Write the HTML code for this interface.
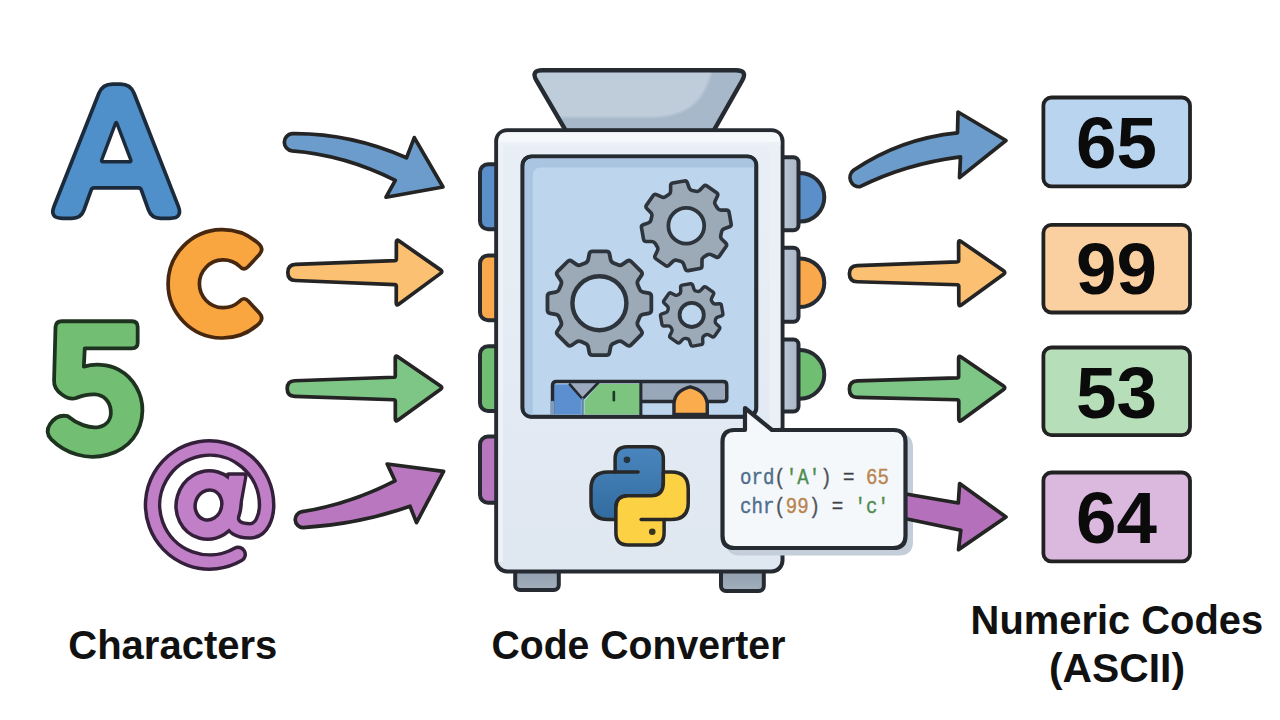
<!DOCTYPE html>
<html><head><meta charset="utf-8"><title>Code Converter</title>
<style>
html,body{margin:0;padding:0;background:#fff;}
body{width:1280px;height:720px;overflow:hidden;font-family:"Liberation Sans",sans-serif;}
svg text{font-family:"Liberation Sans",sans-serif;}
svg text.mono{font-family:"Liberation Mono",monospace;}
</style></head><body>
<svg width="1280" height="720" viewBox="0 0 1280 720" style="display:block">
<defs>
 <linearGradient id="pyb" x1="0" y1="0" x2="0" y2="1"><stop offset="0" stop-color="#4a86be"/><stop offset="1" stop-color="#316b9f"/></linearGradient>
 <linearGradient id="plate" x1="0" y1="0" x2="1" y2="0"><stop offset="0" stop-color="#c9d3df"/><stop offset="1" stop-color="#a9b6c7"/></linearGradient>
 <linearGradient id="foot" x1="0" y1="0" x2="0" y2="1"><stop offset="0" stop-color="#8796a7"/><stop offset="1" stop-color="#a3afbc"/></linearGradient>
 <linearGradient id="bodyg" x1="0" y1="0" x2="0" y2="1"><stop offset="0" stop-color="#e9eff6"/><stop offset="1" stop-color="#dfe7f1"/></linearGradient>
</defs>
<rect width="1280" height="720" fill="#ffffff"/>
<!-- LETTERS -->
<g stroke-linejoin="round" stroke-linecap="round">
 <path d="M98.81,93.50 Q102.50,84.20 112.50,84.20 L120.50,84.20 Q130.50,84.20 134.15,93.51 L178.26,206.19 Q183.00,218.30 170.00,218.30 L160.50,218.30 Q151.50,218.30 148.45,209.83 L141.18,189.68 Q140.50,187.80 138.50,187.80 L94.00,187.80 Q92.00,187.80 91.32,189.68 L84.05,209.83 Q81.00,218.30 72.00,218.30 L62.30,218.30 Q49.30,218.30 54.09,206.22 Z" fill="#4f8fca" stroke="#1c2b3b" stroke-width="3.7"/>
 <path d="M115.49,123.37 Q116.20,121.50 116.91,123.37 L130.79,159.93 Q131.50,161.80 129.50,161.80 L103.00,161.80 Q101.00,161.80 101.71,159.93 Z" fill="#ffffff" stroke="#1c2b3b" stroke-width="3.4"/>
 <path d="M259.33,244.23 A54.20,54.20 0 1 0 259.33,323.37 Q264.12,318.28 259.39,313.12 L248.52,301.27 Q243.79,296.11 239.36,301.50 A23.90,23.90 0 1 1 239.36,266.10 Q243.79,271.49 248.52,266.33 L259.39,254.48 Q264.12,249.32 259.33,244.23 Z" fill="#f9a640" stroke="#47280f" stroke-width="3.7"/>
 <g transform="translate(30,300) scale(0.23612)">
  <path d="M135,90 L432,90 Q456,90 456,114 L456,181 Q456,205 432,205 L232,205 L228,282 C270,270 330,270 375,295 C440,330 478,400 476,470 C474,560 420,630 330,655 C240,680 150,650 90,590 Q62,560 85,525 Q115,482 160,492 C200,525 250,545 290,538 C330,530 345,500 342,468 C338,425 310,402 275,400 C240,398 215,408 195,415 Q170,425 135,400 Q100,375 102,340 L108,114 Q110,90 135,90 Z" fill="#72bf73" stroke="#1d3320" stroke-width="16"/>
 </g>
 <g fill="none" stroke="#35203c">
  <path d="M238.10,554.36 A57,57 0 1 1 266.60,505.00 C266.6,516 262,530.8 250,530.8 C240,530.8 231,528 231,516" stroke-width="17.8"/>
  <path d="M228.6,475.2 L244.7,475.2 L237,518 L221,518 Z" stroke-width="6" fill="#35203c"/>
  <ellipse cx="208.5" cy="505" rx="22.75" ry="24.75" transform="rotate(16 208.5 505)" stroke-width="22.6"/>
 </g>
 <g fill="none" stroke="#c07fc6">
  <path d="M238.10,554.36 A57,57 0 1 1 266.60,505.00 C266.6,516 262,530.8 250,530.8 C240,530.8 231,528 231,516" stroke-width="10.8"/>
  <path d="M230.3,476.9 L243,476.9 L235.4,518 L222.6,518 Z" stroke-width="2.4" fill="#c07fc6"/>
  <ellipse cx="208.5" cy="505" rx="22.75" ry="24.75" transform="rotate(16 208.5 505)" stroke-width="15.6"/>
 </g>
</g>
<!-- ARROWS -->
<g stroke="#242424" stroke-width="3.7" stroke-linejoin="round" stroke-linecap="round">
 <path d="M292,133.7 Q350,133 406.5,157.8 L414.3,137.6 L443,187 L386,197.2 L395.3,180.3 Q345,155 292,150.8 A8.6,8.6 0 0 1 292,133.7 Z" fill="#6b9ccb"/>
 <path d="M287.80,272.40 Q287.81,264.60 295.61,264.31 L394.82,260.66 Q396.32,260.60 396.32,259.10 L396.36,242.10 Q396.36,239.10 398.82,240.82 L440.54,269.88 Q443.00,271.60 440.59,273.38 L398.65,304.32 Q396.24,306.10 396.24,303.10 L396.28,286.10 Q396.28,284.60 394.78,284.54 L295.58,280.52 Q287.79,280.20 287.80,272.40 Z" fill="#fbc072"/>
 <path d="M287.20,388.60 Q287.19,381.00 294.79,380.73 L393.79,377.25 Q395.29,377.20 395.29,375.70 L395.27,358.00 Q395.27,355.00 397.75,356.69 L440.52,385.91 Q443.00,387.60 440.57,389.36 L397.76,420.24 Q395.33,422.00 395.33,419.00 L395.31,401.30 Q395.31,399.80 393.81,399.75 L294.80,396.45 Q287.21,396.20 287.20,388.60 Z" fill="#7ec686"/>
 <path d="M302,511.7 Q350,504 395,480.8 L387.2,464 L443.6,471.4 L416.5,522.6 L410,506.2 Q360,524 303,527.6 A8,8 0 0 1 302,511.7 Z" fill="#b877be"/>
 <path d="M853.5,170.3 Q900,138.5 957.5,132.8 L958,112 L1006,140.5 L959.5,177.6 L960.5,156.8 Q905,164 860,186.7 A9.2,9.2 0 0 1 853.5,170.3 Z" fill="#6b9ccb"/>
 <path d="M849.40,273.70 Q849.37,265.90 857.17,265.61 L957.16,261.86 Q958.66,261.80 958.65,260.30 L958.59,242.80 Q958.58,239.80 961.05,241.50 L1003.53,270.70 Q1006.00,272.40 1003.58,274.17 L961.25,305.03 Q958.82,306.80 958.81,303.80 L958.75,286.30 Q958.74,284.80 957.24,284.75 L857.22,281.74 Q849.43,281.50 849.40,273.70 Z" fill="#fbc072"/>
 <path d="M849.40,389.20 Q849.37,381.20 857.37,380.95 L957.16,377.85 Q958.66,377.80 958.65,376.30 L958.59,358.30 Q958.58,355.30 961.05,356.99 L1003.52,386.01 Q1006.00,387.70 1003.58,389.47 L961.24,420.53 Q958.82,422.30 958.81,419.30 L958.75,401.30 Q958.74,399.80 957.24,399.76 L857.43,397.39 Q849.43,397.20 849.40,389.20 Z" fill="#7ec686"/>
</g>
<!-- MACHINE -->
<g stroke="#262b32" stroke-width="4" stroke-linejoin="round" stroke-linecap="round">
<rect x="480" y="164.2" width="30.00" height="65.00" rx="8" ry="8" fill="#5b8fc9" />
<rect x="480" y="255.5" width="30.00" height="64.70" rx="8" ry="8" fill="#f9a94b" />
<rect x="480" y="346.3" width="30.00" height="64.70" rx="8" ry="8" fill="#6fbe72" />
<rect x="480" y="436.5" width="30.00" height="66.20" rx="8" ry="8" fill="#b876bf" />
<circle cx="800" cy="197.3" r="24.3" fill="#5b8fc9"/>
<circle cx="800" cy="282.7" r="24.3" fill="#f9a94b"/>
<circle cx="800" cy="374.4" r="24.3" fill="#6fbe72"/>
<rect x="770" y="157.3" width="28.50" height="72.90" rx="5" ry="5" fill="url(#plate)" />
<rect x="770" y="247.8" width="28.50" height="74.00" rx="5" ry="5" fill="url(#plate)" />
<rect x="770" y="339.5" width="28.50" height="72.00" rx="5" ry="5" fill="url(#plate)" />
<clipPath id="hopclip"><path d="M536.56,80.66 Q530.50,70.30 542.50,70.30 L736.00,70.30 Q748.00,70.30 742.07,80.73 L713.99,130.13 Q713.50,131.00 712.50,131.00 L567.00,131.00 Q566.00,131.00 565.50,130.14 Z"/></clipPath>
<path d="M536.56,80.66 Q530.50,70.30 542.50,70.30 L736.00,70.30 Q748.00,70.30 742.07,80.73 L713.99,130.13 Q713.50,131.00 712.50,131.00 L567.00,131.00 Q566.00,131.00 565.50,130.14 Z" fill="#bfcdda" stroke="none"/>
<g clip-path="url(#hopclip)" stroke="none"><path d="M713,66 L760,66 L760,135 L540,135 L540,117.6 L650,117.6 C690,117 706,100 713,66 Z" fill="#a6b8ca"/><path d="M540,117.6 L650,117.6 C690,117 706,100 713,66" fill="none" stroke="#b2c2d2" stroke-width="2"/></g>
<path d="M536.56,80.66 Q530.50,70.30 542.50,70.30 L736.00,70.30 Q748.00,70.30 742.07,80.73 L713.99,130.13 Q713.50,131.00 712.50,131.00 L567.00,131.00 Q566.00,131.00 565.50,130.14 Z" fill="none" stroke-width="4.4"/>
<rect x="515.2" y="560" width="43.60" height="30.00" rx="5" ry="5" fill="url(#foot)" />
<rect x="721" y="560" width="42.80" height="31.00" rx="5" ry="5" fill="url(#foot)" />
<rect x="496.2" y="130.2" width="286.30" height="441.30" rx="11" ry="11" fill="url(#bodyg)" />
<rect x="522.5" y="156.4" width="233.80" height="260.40" rx="9" ry="9" fill="#bdd5ed" />
</g>
<path d="M507,132.3 L772,132.3 Q780.3,132.3 780.3,141 L780.3,142 L498.4,142 L498.4,141 Q498.4,132.3 507,132.3 Z" fill="#f6f9fc"/>
<rect x="498.4" y="142" width="282" height="3" fill="#eef2f8" opacity="0.7"/>
<rect x="769.5" y="142" width="10.8" height="285" fill="#ebf0f7"/>
<rect x="498.4" y="142" width="4.6" height="420" fill="#eef2f8"/>
<path d="M524.6,167 Q524.6,158.5 533,158.5 L754.2,158.5 L754.2,167.5 L541,167.5 Q532.8,167.5 532.8,176 L532.8,414.7 L524.6,414.7 Z" fill="#a9c5e2"/>
<g stroke="#2e343c" stroke-linejoin="round" fill="#9ca9b7">
<path d="M668.78,194.57 Q670.63,193.39 670.63,191.19 L670.62,185.61 Q670.62,183.41 672.79,183.03 L684.37,180.98 Q686.54,180.60 687.29,182.67 L689.19,187.92 Q689.94,189.98 692.09,190.46 L695.99,191.33 Q698.14,191.80 699.69,190.24 L703.63,186.29 Q705.19,184.74 706.99,186.00 L716.63,192.74 Q718.43,194.01 717.50,196.00 L715.13,201.05 Q714.20,203.05 715.38,204.90 L717.53,208.28 Q718.71,210.13 720.91,210.13 L726.49,210.12 Q728.69,210.12 729.07,212.29 L731.12,223.87 Q731.50,226.04 729.43,226.79 L724.18,228.69 Q722.12,229.44 721.64,231.59 L720.77,235.49 Q720.30,237.64 721.86,239.19 L725.81,243.13 Q727.36,244.69 726.10,246.49 L719.36,256.13 Q718.09,257.93 716.10,257.00 L711.05,254.63 Q709.05,253.70 707.20,254.88 L703.82,257.03 Q701.97,258.21 701.97,260.41 L701.98,265.99 Q701.98,268.19 699.81,268.57 L688.23,270.62 Q686.06,271.00 685.31,268.93 L683.41,263.68 Q682.66,261.62 680.51,261.14 L676.61,260.27 Q674.46,259.80 672.91,261.36 L668.97,265.31 Q667.41,266.86 665.61,265.60 L655.97,258.86 Q654.17,257.59 655.10,255.60 L657.47,250.55 Q658.40,248.55 657.22,246.70 L655.07,243.32 Q653.89,241.47 651.69,241.47 L646.11,241.48 Q643.91,241.48 643.53,239.31 L641.48,227.73 Q641.10,225.56 643.17,224.81 L648.42,222.91 Q650.48,222.16 650.96,220.01 L651.83,216.11 Q652.30,213.96 650.74,212.41 L646.79,208.47 Q645.24,206.91 646.50,205.11 L653.24,195.47 Q654.51,193.67 656.50,194.60 L661.55,196.97 Q663.55,197.90 665.40,196.72 Z" stroke-width="3.6"/><circle cx="686.3" cy="225.8" r="17.9" fill="#bdd5ed" stroke-width="3.8"/>
<path d="M585.34,263.01 Q587.75,262.02 588.23,259.46 L589.29,253.84 Q589.78,251.28 592.38,251.28 L606.42,251.28 Q609.02,251.28 609.51,253.84 L610.57,259.46 Q611.05,262.02 613.46,263.01 L617.88,264.84 Q620.28,265.84 622.43,264.37 L627.16,261.15 Q629.31,259.69 631.14,261.52 L641.08,271.46 Q642.91,273.29 641.45,275.44 L638.23,280.17 Q636.76,282.32 637.76,284.72 L639.59,289.14 Q640.58,291.55 643.14,292.03 L648.76,293.09 Q651.32,293.58 651.32,296.18 L651.32,310.22 Q651.32,312.82 648.76,313.31 L643.14,314.37 Q640.58,314.85 639.59,317.26 L637.76,321.68 Q636.76,324.08 638.23,326.23 L641.45,330.96 Q642.91,333.11 641.08,334.94 L631.14,344.88 Q629.31,346.71 627.16,345.25 L622.43,342.03 Q620.28,340.56 617.88,341.56 L613.46,343.39 Q611.05,344.38 610.57,346.94 L609.51,352.56 Q609.02,355.12 606.42,355.12 L592.38,355.12 Q589.78,355.12 589.29,352.56 L588.23,346.94 Q587.75,344.38 585.34,343.39 L580.92,341.56 Q578.52,340.56 576.37,342.03 L571.64,345.25 Q569.49,346.71 567.66,344.88 L557.72,334.94 Q555.89,333.11 557.35,330.96 L560.57,326.23 Q562.04,324.08 561.04,321.68 L559.21,317.26 Q558.22,314.85 555.66,314.37 L550.04,313.31 Q547.48,312.82 547.48,310.22 L547.48,296.18 Q547.48,293.58 550.04,293.09 L555.66,292.03 Q558.22,291.55 559.21,289.14 L561.04,284.72 Q562.04,282.32 560.57,280.17 L557.35,275.44 Q555.89,273.29 557.72,271.46 L567.66,261.52 Q569.49,259.69 571.64,261.15 L576.37,264.37 Q578.52,265.84 580.92,264.84 Z" stroke-width="3.8"/><circle cx="599.4" cy="303.2" r="27" fill="#bdd5ed" stroke-width="4.4"/>
<path d="M679.29,294.03 Q680.81,293.06 680.74,291.26 L680.58,287.25 Q680.51,285.45 682.29,285.14 L690.37,283.72 Q692.14,283.40 692.69,285.12 L693.91,288.94 Q694.46,290.66 696.22,291.05 L697.68,291.37 Q699.44,291.76 700.66,290.44 L703.39,287.49 Q704.61,286.17 706.09,287.20 L712.81,291.91 Q714.28,292.94 713.46,294.54 L711.62,298.11 Q710.80,299.71 711.76,301.23 L712.57,302.49 Q713.54,304.01 715.34,303.94 L719.35,303.78 Q721.15,303.71 721.46,305.49 L722.88,313.57 Q723.20,315.34 721.48,315.89 L717.66,317.11 Q715.94,317.66 715.55,319.42 L715.23,320.88 Q714.84,322.64 716.16,323.86 L719.11,326.59 Q720.43,327.81 719.40,329.29 L714.69,336.01 Q713.66,337.48 712.06,336.66 L708.49,334.82 Q706.89,334.00 705.37,334.96 L704.11,335.77 Q702.59,336.74 702.66,338.54 L702.82,342.55 Q702.89,344.35 701.11,344.66 L693.03,346.08 Q691.26,346.40 690.71,344.68 L689.49,340.86 Q688.94,339.14 687.18,338.75 L685.72,338.43 Q683.96,338.04 682.74,339.36 L680.01,342.31 Q678.79,343.63 677.31,342.60 L670.59,337.89 Q669.12,336.86 669.94,335.26 L671.78,331.69 Q672.60,330.09 671.64,328.57 L670.83,327.31 Q669.86,325.79 668.06,325.86 L664.05,326.02 Q662.25,326.09 661.94,324.31 L660.52,316.23 Q660.20,314.46 661.92,313.91 L665.74,312.69 Q667.46,312.14 667.85,310.38 L668.17,308.92 Q668.56,307.16 667.24,305.94 L664.29,303.21 Q662.97,301.99 664.00,300.51 L668.71,293.79 Q669.74,292.32 671.34,293.14 L674.91,294.98 Q676.51,295.80 678.03,294.84 Z" stroke-width="3.4"/><circle cx="691.7" cy="314.9" r="12.1" fill="#bdd5ed" stroke-width="3.8"/>
</g>
<g transform="translate(520,360) scale(0.203128)" stroke-linejoin="round" stroke-linecap="round">
 <path d="M600,108 L1000,108 Q1015,108 1015,123 L1015,200 L600,200 Z" fill="#98a7b9" stroke="none"/>
 <path d="M160,120 L300,120 L300,268 L160,268 Z" fill="#5b8fd0" stroke="none"/>
 <path d="M240,115 L375,115 L308,192 Z" fill="#9ca9be" stroke="none"/>
 <path d="M318,268 L318,200 L388,118 L592,118 L592,268 Z" fill="#7cc47f" stroke="none"/>
 <path d="M610,215 L750,215 L750,268 L610,268 Z" fill="#bdd5ed" stroke="none"/>
 <path d="M160,268 L160,125 Q160,106 180,106 L1000,106 Q1018,106 1018,124 L1018,190 Q1018,204 1004,204 L600,204" fill="none" stroke="#262b32" stroke-width="17"/>
 <path d="M595,112 L595,268" fill="none" stroke="#262b32" stroke-width="15"/>
 <path d="M245,120 L308,192 L385,112" fill="none" stroke="#262b32" stroke-width="13"/>
 <path d="M308,192 L308,268" fill="none" stroke="#5f86a8" stroke-width="12"/>
 <path d="M160,210 L160,268" fill="none" stroke="#7f9bb8" stroke-width="18"/>
 <path d="M462,158 L462,198" fill="none" stroke="#1f3a24" stroke-width="13"/>
 <path d="M758,268 L758,215 Q762,150 838,132 Q915,150 922,215 L922,268 Z" fill="#fbad4e" stroke="#262b32" stroke-width="17"/>
</g>
<rect x="522.5" y="156.4" width="233.8" height="260.4" rx="9" ry="9" fill="none" stroke="#262b32" stroke-width="3.4"/>
<g transform="translate(570,420) scale(0.194439)" stroke="#282828" stroke-width="18" stroke-linejoin="round" stroke-linecap="round">
 <path d="M232,200 Q232,137 295,137 L417,137 Q480,137 480,200 L480,328 Q480,390 418,390 L302,390 Q236,390 236,456 L236,512 L195,512 Q108,512 108,425 L108,355 Q108,268 195,268 L232,268 Z" fill="url(#pyb)"/>
 <path d="M232,268 L350,268" fill="none"/>
 <circle cx="293" cy="205" r="17" fill="#26323f" stroke="none"/>
 <g transform="rotate(180 358 390)">
  <path d="M232,200 Q232,137 295,137 L417,137 Q480,137 480,200 L480,328 Q480,390 418,390 L302,390 Q236,390 236,456 L236,512 L195,512 Q108,512 108,425 L108,355 Q108,268 195,268 L232,268 Z" fill="#fcd144"/>
  <path d="M232,268 L350,268" fill="none"/>
  <circle cx="293" cy="205" r="17" fill="#3a3320" stroke="none"/>
 </g>
</g>
<path d="M734.5,430 L745,430 L745,408 L772,430 L893.5,430 Q905.5,430 905.5,442 L905.5,536 Q905.5,548 893.5,548 L734.5,548 Q722.5,548 722.5,536 L722.5,442 Q722.5,430 734.5,430 Z" transform="translate(5.5,5.5)" fill="#c4cedb" stroke="#c4cedb" stroke-width="4" stroke-linejoin="round"/>
<path d="M900,493 L958.3,503 L959.6,483.6 L1006,517 L958.5,549.6 L960.8,530.3 L900,517.5 Z" fill="#b570bb" stroke="#242424" stroke-width="3.7" stroke-linejoin="round"/>
<path d="M734.5,430 L745,430 L745,408 L772,430 L893.5,430 Q905.5,430 905.5,442 L905.5,536 Q905.5,548 893.5,548 L734.5,548 Q722.5,548 722.5,536 L722.5,442 Q722.5,430 734.5,430 Z" fill="#f5f8fb" stroke="#262b32" stroke-width="4.2" stroke-linejoin="round"/>
<g font-size="19.1px" style="font-family:'Liberation Mono',monospace" stroke-width="0.35">
 <text class="mono" transform="translate(740,484.2) scale(1,1.12)" xml:space="preserve"><tspan fill="#4d6e8c" stroke="#4d6e8c">ord</tspan><tspan fill="#50555b" stroke="#50555b">(</tspan><tspan fill="#4f8c50" stroke="#4f8c50">'A'</tspan><tspan fill="#50555b" stroke="#50555b">)</tspan><tspan fill="#3f4246" stroke="#3f4246"> = </tspan><tspan fill="#b9854f" stroke="#b9854f">65</tspan></text>
 <text class="mono" transform="translate(740,513.4) scale(1,1.12)" xml:space="preserve"><tspan fill="#4d6e8c" stroke="#4d6e8c">chr</tspan><tspan fill="#50555b" stroke="#50555b">(</tspan><tspan fill="#b9854f" stroke="#b9854f">99</tspan><tspan fill="#50555b" stroke="#50555b">)</tspan><tspan fill="#3f4246" stroke="#3f4246"> = </tspan><tspan fill="#4f8c50" stroke="#4f8c50">'c'</tspan></text>
</g>
<!-- BOXES -->
<g stroke="#222" stroke-width="3.8">
<rect x="1043.4" y="97.5" width="146.6" height="88.90" rx="8" ry="8" fill="#b9d4ee"/>
<rect x="1043.4" y="224.9" width="146.6" height="87.60" rx="8" ry="8" fill="#fbd0a1"/>
<rect x="1043.4" y="347.5" width="146.6" height="87.60" rx="8" ry="8" fill="#b6dfb9"/>
<rect x="1043.4" y="472.5" width="146.6" height="88.90" rx="8" ry="8" fill="#dbb9df"/>
</g>
<g font-weight="bold" font-size="73px" fill="#0b0b0b">
<text x="1076" y="168.4" textLength="81" lengthAdjust="spacingAndGlyphs">65</text>
<text x="1076" y="294.2" textLength="81" lengthAdjust="spacingAndGlyphs">99</text>
<text x="1076" y="417.8" textLength="81" lengthAdjust="spacingAndGlyphs">53</text>
<text x="1076" y="543.3" textLength="81" lengthAdjust="spacingAndGlyphs">64</text>
</g>
<!-- LABELS -->
<g font-weight="bold" font-size="41.5px" fill="#111">
 <text x="68.3" y="658.6" textLength="209" lengthAdjust="spacingAndGlyphs">Characters</text>
 <text x="491.4" y="658.6" textLength="294" lengthAdjust="spacingAndGlyphs">Code Converter</text>
 <text x="970.6" y="634" textLength="292.5" lengthAdjust="spacingAndGlyphs">Numeric Codes</text>
 <text x="1049" y="681.8" textLength="136" lengthAdjust="spacingAndGlyphs">(ASCII)</text>
</g>
</svg>
</body></html>
